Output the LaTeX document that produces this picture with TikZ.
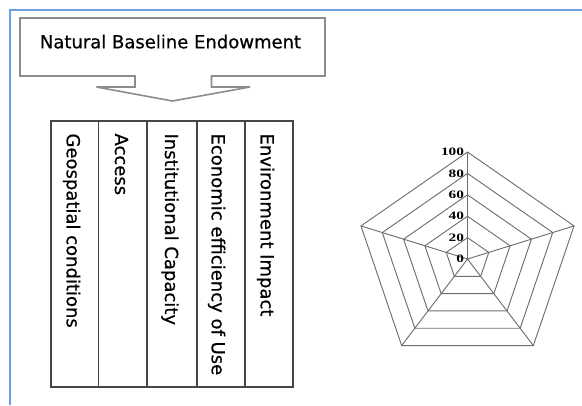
\documentclass[tikz,border=0pt]{standalone}
\usepackage{graphicx}
\usepackage{fontspec}
\setmainfont{DejaVu Sans}
\newfontfamily\labelfont{DejaVu Sans}[FakeBold=0.6]
\newfontfamily\tickfont{Liberation Serif}

\tikzset{every picture/.style={line width=0.75pt}}

\begin{document}
\begin{tikzpicture}[x=0.75pt,y=0.75pt,yscale=-1,xscale=1]
\useasboundingbox (0,0) rectangle (582,405);

%Straight Lines [id:frame] 
\draw [color={rgb, 255:red, 108; green, 160; blue, 228 }  ,draw opacity=1 ][line width=1.1]    (10,405) -- (10,10) -- (582,10) ;

%Shape: Down Arrow Callout [id:callout] 
\draw  [color={rgb, 255:red, 140; green, 140; blue, 140 }  ,draw opacity=1 ][line width=1.2]  (20,18) -- (325,18) -- (325,76) -- (211.5,76) -- (211.5,87) -- (250,87) -- (172.5,101) -- (96.5,87) -- (135,87) -- (135,76) -- (20,76) -- cycle ;

%Shape: Rectangle [id:table] 
\draw  [color={rgb, 255:red, 70; green, 70; blue, 70 }  ,draw opacity=1 ][line width=1]  (51,121) -- (293,121) -- (293,387) -- (51,387) -- cycle ;
%Straight Lines [id:col1] 
\draw [color={rgb, 255:red, 70; green, 70; blue, 70 }  ,draw opacity=1 ][line width=1]    (98.5,121) -- (98.5,387) ;
%Straight Lines [id:col2] 
\draw [color={rgb, 255:red, 70; green, 70; blue, 70 }  ,draw opacity=1 ][line width=1]    (147,121) -- (147,387) ;
%Straight Lines [id:col3] 
\draw [color={rgb, 255:red, 70; green, 70; blue, 70 }  ,draw opacity=1 ][line width=1]    (197,121) -- (197,387) ;
%Straight Lines [id:col4] 
\draw [color={rgb, 255:red, 70; green, 70; blue, 70 }  ,draw opacity=1 ][line width=1]    (245,121) -- (245,387) ;

%Shape: Polygon [id:ring20] 
\draw  [color={rgb, 255:red, 110; green, 110; blue, 110 }  ,draw opacity=1 ][line width=0.7]  (467.5,237.6) -- (488.8,252.39) -- (480.67,276.31) -- (454.33,276.31) -- (446.2,252.39) -- cycle ;
%Shape: Polygon [id:ring40] 
\draw  [color={rgb, 255:red, 110; green, 110; blue, 110 }  ,draw opacity=1 ][line width=0.7]  (467.5,216.2) -- (510.11,245.77) -- (493.83,293.63) -- (441.17,293.63) -- (424.89,245.77) -- cycle ;
%Shape: Polygon [id:ring60] 
\draw  [color={rgb, 255:red, 110; green, 110; blue, 110 }  ,draw opacity=1 ][line width=0.7]  (467.5,194.8) -- (531.41,239.16) -- (507,310.94) -- (428,310.94) -- (403.59,239.16) -- cycle ;
%Shape: Polygon [id:ring80] 
\draw  [color={rgb, 255:red, 110; green, 110; blue, 110 }  ,draw opacity=1 ][line width=0.7]  (467.5,173.4) -- (552.72,232.55) -- (520.17,328.25) -- (414.83,328.25) -- (382.28,232.55) -- cycle ;
%Shape: Polygon [id:ring100] 
\draw  [color={rgb, 255:red, 110; green, 110; blue, 110 }  ,draw opacity=1 ][line width=0.7]  (467.5,152) -- (574.02,225.94) -- (533.33,345.56) -- (401.67,345.56) -- (360.98,225.94) -- cycle ;
%Straight Lines [id:spokes] 
\draw [color={rgb, 255:red, 110; green, 110; blue, 110 }  ,draw opacity=1 ][line width=0.7]    (467.5,259) -- (467.5,152) (467.5,259) -- (574.02,225.94) (467.5,259) -- (533.33,345.56) (467.5,259) -- (401.67,345.56) (467.5,259) -- (360.98,225.94) ;

% Text Node
\draw (170.5,48.3) node [anchor=base][inner sep=0.75pt]  [font=\labelfont\fontsize{13.5}{16}\selectfont] (title) {Natural Baseline Endowment};
% Text Node
\draw (66.7,133) node [anchor=base west][inner sep=0pt]  [font=\labelfont\fontsize{13.5}{16}\selectfont,rotate=-90] (geo) {Geospatial conditions};
% Text Node
\draw (115,133) node [anchor=base west][inner sep=0pt]  [font=\labelfont\fontsize{13.5}{16}\selectfont,rotate=-90] (access) {Access};
% Text Node
\draw (165,133) node [anchor=base west][inner sep=0pt]  [font=\labelfont\fontsize{13.5}{16}\selectfont,rotate=-90] (inst) {Institutional Capacity};
% Text Node
\draw (211.7,133) node [anchor=base west][inner sep=0pt]  [font=\labelfont\fontsize{13.5}{16}\selectfont,rotate=-90] (econ) {Economic efficiency of Use};
% Text Node
\draw (260.7,133) node [anchor=base west][inner sep=0pt]  [font=\labelfont\fontsize{13.5}{16}\selectfont,rotate=-90] (env) {Environment Impact};

% Text Node
\draw (465.5,152) node [anchor=east][inner sep=0.75pt]  [font=\tickfont\bfseries\fontsize{8.5}{9}\selectfont] (t100) {\scalebox{1.35}[1]{100}};
% Text Node
\draw (465.5,173.4) node [anchor=east][inner sep=0.75pt]  [font=\tickfont\bfseries\fontsize{8.5}{9}\selectfont] (t80) {\scalebox{1.35}[1]{80}};
% Text Node
\draw (465.5,194.8) node [anchor=east][inner sep=0.75pt]  [font=\tickfont\bfseries\fontsize{8.5}{9}\selectfont] (t60) {\scalebox{1.35}[1]{60}};
% Text Node
\draw (465.5,216.2) node [anchor=east][inner sep=0.75pt]  [font=\tickfont\bfseries\fontsize{8.5}{9}\selectfont] (t40) {\scalebox{1.35}[1]{40}};
% Text Node
\draw (465.5,237.6) node [anchor=east][inner sep=0.75pt]  [font=\tickfont\bfseries\fontsize{8.5}{9}\selectfont] (t20) {\scalebox{1.35}[1]{20}};
% Text Node
\draw (465.5,259) node [anchor=east][inner sep=0.75pt]  [font=\tickfont\bfseries\fontsize{8.5}{9}\selectfont] (t0) {\scalebox{1.35}[1]{0}};
\end{tikzpicture}
\end{document}
